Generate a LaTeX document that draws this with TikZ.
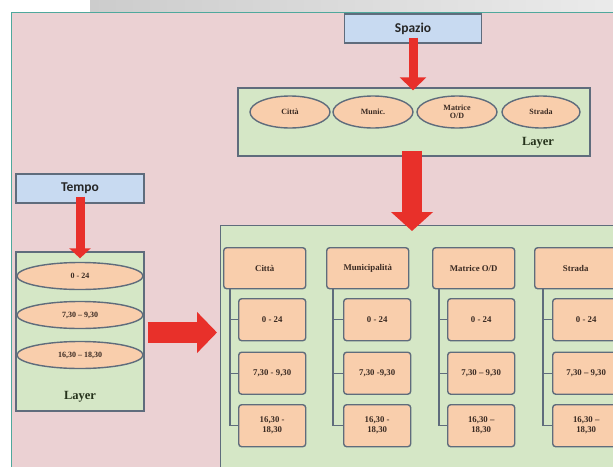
\documentclass[tikz,border=0pt]{standalone}
\usepackage{fontspec}
\setmainfont{Liberation Serif}
\newfontfamily\headfont{Carlito}
\usetikzlibrary{shapes.geometric,arrows.meta}
\definecolor{bgpink}{HTML}{EBD1D3}
\definecolor{tealb}{HTML}{4FA89C}
\definecolor{hblue}{HTML}{C8DAF1}
\definecolor{lgreen}{HTML}{D5E7C6}
\definecolor{peach}{HTML}{F9CEAC}
\definecolor{edgec}{HTML}{5F6C7C}
\definecolor{arrred}{HTML}{E8302A}
\definecolor{txtc}{HTML}{3A2A22}
\definecolor{layc}{HTML}{26331C}
\tikzset{
  headbox/.style={draw=edgec, line width=1.4pt, fill=hblue, minimum width=137pt, minimum height=29pt, inner sep=0pt, font=\headfont\bfseries\fontsize{13.5}{13.5}\selectfont, text=black!85},
  layerbox/.style={draw=edgec, line width=1.4pt, fill=lgreen},
  oval/.style={ellipse, draw=edgec, line width=1.4pt, fill=peach, inner sep=0pt, align=center, font=\bfseries\fontsize{8}{8.5}\selectfont, text=txtc},
  cell/.style={draw=edgec, line width=1.4pt, fill=peach, rounded corners=3pt, inner sep=0pt, align=center, font=\bfseries\fontsize{8.8}{10}\selectfont, text=txtc},
  hcell/.style={cell, minimum width=82pt, minimum height=41pt},
  scell/.style={cell, minimum width=67pt, minimum height=42pt},
  layertext/.style={font=\bfseries\fontsize{12.5}{12.5}\selectfont, text=layc},
  tree/.style={draw=edgec, line width=1.4pt},
}
\newcommand\mkcolumn[8]{%
  \node[hcell, anchor=north west] (#4h) at (#1,247) {#5};
  \node[scell, anchor=north west] (#4a) at (#2,298) {#6};
  \node[scell, anchor=north west] (#4b) at (#2,351.5) {#7};
  \node[scell, anchor=north west] (#4c) at (#2,404) {#8};
  \coordinate (#4top) at (#3,288);
  \draw[tree] (#4top) |- (#4c.west);
  \draw[tree] (#4top |- #4a.west) -- (#4a.west);
  \draw[tree] (#4top |- #4b.west) -- (#4b.west);
}
\begin{document}
\begin{tikzpicture}[x=1pt,y=-1pt]
\useasboundingbox (0,0) rectangle (613,466);
\clip (0,0) rectangle (613,466);
% top strip
\fill[white] (0,0) rectangle (613,466);
\shade[left color=black!20, right color=black!8] (90,0) rectangle (613,12);
% background panel
\fill[bgpink] (11,12) rectangle (620,470);
\draw[tealb, line width=1.5pt] (11.5,470) -- (11.5,12.5) -- (620,12.5);

% Spazio
\node[headbox] (spazio) at (413,28.5) {Spazio};
\node[layerbox, minimum width=352pt, minimum height=68pt, inner sep=0pt] (slayer) at (414,122) {};
\node[oval, minimum width=80pt, minimum height=32pt] (e1) at (290,112) {Città};
\node[oval, minimum width=80pt, minimum height=32pt] (e2) at (373,112) {Munic.};
\node[oval, minimum width=80pt, minimum height=32pt] (e3) at (457,112) {Matrice\\O/D};
\node[oval, minimum width=78pt, minimum height=32pt] (e4) at (541,112) {Strada};
\node[layertext] (sl) at (538,143) {Layer};

% Tempo
\node[headbox, minimum width=128pt] (tempo) at (80,188.5) {Tempo};
\node[layerbox, minimum width=128pt, minimum height=159pt, inner sep=0pt] (tlayer) at (80,331.5) {};
\node[oval, minimum width=126pt, minimum height=27pt] (t1) at (80,276) {0 - 24};
\node[oval, minimum width=126pt, minimum height=27pt] (t2) at (80,315) {7,30 -- 9,30};
\node[oval, minimum width=126pt, minimum height=27pt] (t3) at (80,355) {16,30 -- 18,30};
\node[layertext] (tl) at (80,397) {Layer};

% big results box
\node[layerbox, minimum width=400pt, minimum height=250pt, inner sep=0pt, anchor=north west] (big) at (220,225) {};

% columns
\mkcolumn{223}{238}{230}{c1}{Città}{0 - 24}{7,30 - 9,30}{16,30 -\\18,30}
\mkcolumn{326}{343}{333}{c2}{Municipalità}{0 - 24}{7,30 -9,30}{16,30 -\\18,30}
\mkcolumn{432}{447}{439}{c3}{Matrice O/D}{0 - 24}{7,30 -- 9,30}{16,30 --\\18,30}
\mkcolumn{534}{552}{543}{c4}{Strada}{0 - 24}{7,30 -- 9,30}{16,30 --\\18,30}

% red arrows
\draw[arrred, line width=9pt, -{Triangle[width=26pt,length=13pt]}] ([yshift=6pt]spazio.south) -- ([yshift=-3pt]slayer.north -| spazio.south);
\draw[arrred, line width=9pt, -{Triangle[width=21pt,length=10pt]}] ([yshift=7pt]tempo.south) -- ([yshift=-7pt]tlayer.north);
\draw[arrred, line width=20pt, -{Triangle[width=41pt,length=19pt]}] ([yshift=6pt]slayer.south -| 412,0) -- ([yshift=-6pt]big.north -| 412,0);
\draw[arrred, line width=21pt, -{Triangle[width=40pt,length=20pt]}] ([xshift=3pt]tlayer.east |- 0,332.5) -- ([xshift=-3pt]big.west |- 0,332.5);
\end{tikzpicture}
\end{document}
